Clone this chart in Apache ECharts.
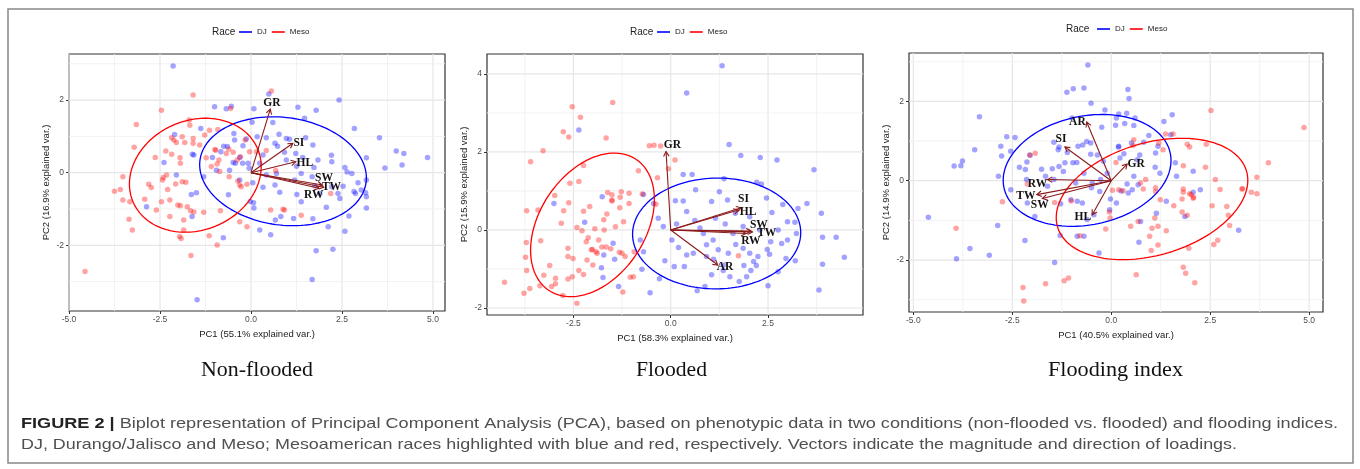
<!DOCTYPE html>
<html><head><meta charset="utf-8">
<script src="https://cdn.jsdelivr.net/npm/echarts@6/dist/echarts.min.js"></script>
<style>html,body{margin:0;padding:0;background:#fff}#c{width:1360px;height:469px}</style>
</head><body><div id="c"></div><script>
// ---------------- DATA ----------------
const panelTitles = ['Non-flooded', 'Flooded', 'Flooding index'];
const xNames = ['PC1 (55.1% explained var.)', 'PC1 (58.3% explained var.)', 'PC1 (40.5% explained var.)'];
const yNames = ['PC2 (16.9% explained var.)', 'PC2 (15.9% explained var.)', 'PC2 (14.9% explained var.)'];
const legendTitle = 'Race';
const groups = ['DJ', 'Meso'];
const captionBold = 'FIGURE 2 |';
const captionLine1 = ' Biplot representation of Principal Component Analysis (PCA), based on phenotypic data in two conditions (non-flooded vs. flooded) and flooding indices.';
const captionLine2 = 'DJ, Durango/Jalisco and Meso; Mesoamerican races highlighted with blue and red, respectively. Vectors indicate the magnitude and direction of loadings.';

// axis ranges
const xRange1 = [-5.0, 5.33], yRange1 = [-3.81, 3.27];
const xRange2 = [-4.72, 4.94], yRange2 = [-2.18, 4.51];
const xRange3 = [-5.11, 5.35], yRange3 = [-3.31, 3.22];
// tick labels (major) and grid lines (major + minor)
const xMajor1 = [-5, -2.5, 0, 2.5, 5], yMajor1 = [-2, 0, 2];
const xMajor2 = [-2.5, 0, 2.5], yMajor2 = [-2, 0, 2, 4];
const xMajor3 = [-5, -2.5, 0, 2.5, 5], yMajor3 = [-2, 0, 2];
const xGrid1 = [-5, -3.75, -2.5, -1.25, 0, 1.25, 2.5, 3.75, 5], yGrid1 = [-3, -2, -1, 0, 1, 2, 3];
const xGrid2 = [-3.75, -2.5, -1.25, 0, 1.25, 2.5, 3.75], yGrid2 = [-2, -1, 0, 1, 2, 3, 4];
const xGrid3 = [-5, -3.75, -2.5, -1.25, 0, 1.25, 2.5, 3.75, 5], yGrid3 = [-3, -2, -1, 0, 1, 2, 3];

// scores: Non-flooded
const dj1 = [[-2.14,2.94],[-1.0,1.82],[-0.68,1.76],[-0.54,1.83],[0.08,1.76],[0.49,2.17],[1.29,1.80],[1.79,1.72],[2.42,2.0],[1.47,1.50],[0.60,1.38],[0.03,1.39],[-1.38,1.22],[-2.10,1.05],[2.84,1.22],[3.53,0.96],[3.99,0.60],[4.20,0.53],[4.85,0.42],[4.15,0.21],[3.68,0.13],[3.17,0.41],[3.17,-0.20],[3.15,-0.55],[3.17,-0.66],[3.17,-0.97],[2.69,-1.19],[2.58,-1.61],[2.25,-2.11],[1.79,-2.15],[1.68,-2.94],[-1.48,-3.50],[-0.76,-1.79],[0.24,-1.58],[0.54,-1.71],[1.70,-1.27],[2.12,-1.49],[2.07,-0.95],[1.17,-1.26],[0.67,-1.30],[0.82,-1.21],[0.08,-0.97],[-0.02,-0.79],[0.07,-0.83],[-0.62,-0.61],[-1.50,-0.55],[-1.64,-0.60],[-1.62,-1.21],[-2.87,-0.94],[-2.05,-0.06],[-2.39,0.28],[-1.61,0.51],[-1.57,0.49],[-0.75,0.73],[-0.65,0.72],[-0.47,1.08],[-0.45,0.90],[-0.13,0.93],[-0.22,0.74],[-0.31,0.42],[-0.23,0.26],[-0.08,0.26],[-0.43,0.26],[-0.59,0.07],[-1.06,0.42],[-0.83,0.58],[-0.49,0.28],[0.17,0.99],[0.42,0.96],[0.77,1.06],[0.66,0.81],[0.73,0.73],[0.97,0.94],[1.06,0.92],[1.50,0.96],[1.70,0.76],[1.23,0.53],[1.42,0.42],[1.84,0.35],[1.25,0.18],[1.73,0.14],[2.21,0.48],[2.22,0.30],[2.58,0.14],[2.64,0.02],[2.77,-0.02],[2.53,-0.37],[2.94,-0.28],[2.83,-0.52],[2.87,-0.57],[3.03,-0.48],[2.39,-0.57],[2.44,-0.71],[2.22,-0.39],[1.89,-0.57],[1.26,-0.60],[1.38,-0.80],[0.79,-0.54],[0.66,-0.34],[0.33,-0.40],[0.42,-0.06],[0.70,-0.02],[0.97,0.35],[0.92,0.56],[0.24,0.26],[0.33,0.49],[1.20,-0.20],[1.38,-0.02],[1.68,-0.11],[1.75,-0.36],[-0.31,-0.20],[-0.05,0.12],[0.05,-0.28],[-1.30,-0.11],[-0.95,0.07]];
const meso1 = [[0.56,2.25],[-1.59,2.14],[-2.46,1.72],[-3.15,1.33],[-3.21,0.70],[-3.52,-0.11],[-3.59,-0.46],[-3.75,-0.51],[-3.52,-0.75],[-3.33,-0.80],[-3.35,-1.28],[-3.26,-1.58],[-4.56,-2.72],[-2.92,-0.73],[-2.81,-0.32],[-2.74,-0.41],[-2.63,0.42],[-2.60,-1.03],[-2.46,-0.80],[-2.43,-0.20],[-2.41,-0.13],[-2.32,-0.06],[-2.29,-0.46],[-2.34,0.60],[-2.18,0.51],[-2.18,0.96],[-2.05,0.83],[-2.12,0.90],[-1.89,0.99],[-1.82,0.83],[-1.59,0.94],[-1.59,0.81],[-1.70,1.45],[-1.68,1.31],[-1.95,0.41],[-1.94,0.26],[-2.23,-0.75],[-2.23,-1.21],[-2.07,-0.31],[-1.89,-0.25],[-1.79,-0.26],[-2.01,-0.89],[-1.96,-1.76],[-1.92,-1.81],[-1.85,-1.58],[-1.85,-1.30],[-1.65,-2.28],[-1.66,-1.05],[-1.57,-1.08],[-1.30,-1.09],[-1.15,-1.74],[-0.93,-1.99],[-0.84,-1.05],[-1.75,-0.94],[-1.94,-0.91],[-1.41,0.76],[-1.27,1.04],[-1.14,1.17],[-0.91,1.19],[-1.23,0.41],[-0.97,0.62],[-0.99,0.64],[-0.93,0.24],[-0.86,0.03],[-0.88,0.35],[-0.68,0.53],[-0.61,0.65],[-0.56,1.77],[-0.38,0.35],[-0.29,0.44],[-0.16,0.90],[-0.31,-0.34],[-0.27,-0.39],[-0.11,-0.32],[-0.36,-0.23],[-0.31,-1.35],[-0.11,-1.49],[-0.04,0.58],[0.15,0.58],[0.42,0.61],[0.68,0.06],[0.54,-1.03],[0.88,-1.01],[0.92,-1.03],[1.38,-1.17],[2.19,-0.57],[-1.09,0.17],[-0.49,0.56],[-0.60,-0.11]];
// scores: Flooded
const dj2 = [[1.32,4.21],[0.41,3.51],[-2.36,2.56],[1.50,2.19],[1.80,1.91],[2.30,1.86],[2.73,1.79],[3.68,1.54],[0.32,1.42],[0.55,1.42],[0.64,1.03],[1.37,1.31],[2.21,1.22],[2.33,1.18],[2.46,0.82],[2.88,0.65],[3.50,0.68],[3.27,0.55],[3.87,0.43],[3.90,-0.19],[4.25,-0.19],[4.46,-0.70],[3.90,-0.88],[3.81,-1.54],[3.20,-0.79],[2.96,-0.73],[2.76,-1.07],[2.50,-1.43],[2.48,-0.50],[2.24,-0.68],[2.13,-0.81],[2.20,-0.91],[2.06,-1.04],[1.88,-0.91],[1.76,-1.32],[1.52,-1.20],[1.35,-1.04],[1.05,-1.15],[0.88,-1.45],[0.68,-1.56],[0.35,-0.94],[0.09,-0.94],[-0.15,-0.79],[-0.29,-1.25],[-0.53,-1.61],[-0.74,-1.01],[-0.78,-0.26],[-0.70,0.91],[-0.44,0.68],[-0.32,0.30],[-0.19,0.09],[0.03,-0.26],[0.15,0.15],[0.12,0.75],[0.32,0.74],[0.41,0.47],[0.62,0.24],[0.84,-0.09],[0.92,-0.38],[1.09,-0.26],[1.05,0.73],[1.25,0.98],[1.46,0.77],[1.66,0.43],[1.60,-0.09],[1.67,-0.37],[1.22,-0.51],[1.48,-0.60],[0.92,-0.68],[0.58,-0.60],[0.41,-0.64],[1.86,0.09],[2.03,0.34],[2.29,0.00],[2.57,-0.30],[2.76,0.00],[3.00,0.21],[3.19,0.20],[3.23,-0.09],[3.00,-0.26],[2.03,-0.60],[1.86,-0.47],[2.54,-0.62],[-1.76,0.85],[-2.21,0.20],[-3.00,0.68],[-1.72,-0.64],[-1.44,-0.75],[-1.78,-0.97],[-1.74,-1.22],[-1.34,-1.45],[-1.48,-0.34],[-0.70,-0.56],[1.35,-0.90],[1.15,0.30],[0.75,0.05],[1.40,0.15],[2.60,0.45],[1.95,-1.20],[0.20,-0.45],[2.85,-0.35],[1.10,-0.75]];
const meso2 = [[-1.49,3.27],[-2.53,3.16],[-2.32,2.89],[-2.76,2.52],[-2.62,2.38],[-1.66,2.36],[-3.28,2.03],[-3.60,1.75],[-0.55,2.16],[-0.43,2.17],[-0.26,2.15],[0.11,1.79],[-0.06,1.57],[-0.83,1.52],[-2.24,1.65],[-2.36,1.24],[-2.59,1.20],[-2.98,0.88],[-3.41,0.51],[-3.70,0.49],[-2.62,0.70],[-2.75,0.49],[-2.81,0.17],[-2.41,0.06],[-2.28,-0.02],[-2.24,0.48],[-2.08,0.60],[-1.95,0.03],[-1.71,0.00],[-1.72,0.26],[-1.64,0.41],[-1.62,0.96],[-1.51,0.90],[-1.51,0.77],[-1.51,0.74],[-1.27,0.98],[-1.30,0.84],[-1.07,0.68],[-1.21,0.21],[-1.42,0.08],[-1.85,-0.26],[-2.12,-0.20],[-2.17,-0.30],[-2.04,-0.51],[-1.92,-0.56],[-1.89,-0.60],[-2.01,-0.50],[-1.77,-0.44],[-1.66,-0.44],[-1.54,-0.48],[-1.32,-0.57],[-1.25,-0.60],[-1.17,-0.68],[-2.15,-0.77],[-2.00,-0.90],[-2.36,-1.04],[-2.24,-1.14],[-2.64,-0.47],[-2.64,-0.68],[-2.51,-0.73],[-2.53,-1.20],[-2.64,-1.26],[-2.96,-1.24],[-2.96,-1.38],[-3.11,-0.91],[-3.26,-1.16],[-3.34,-0.28],[-3.36,-1.43],[-3.06,-1.45],[-3.71,-0.32],[-3.73,-0.70],[-3.70,-1.04],[-3.62,-1.50],[-3.77,-1.62],[-4.27,-1.34],[-2.77,-1.68],[-2.41,-1.88],[-1.23,-1.59],[-1.04,-1.21],[-0.96,-1.20],[-0.94,-0.56],[-1.31,0.57],[-1.07,0.94],[-0.73,0.92],[-0.38,0.66],[-0.34,1.34],[1.74,-0.66]];
// scores: Flooding index
const dj3 = [[-0.59,2.92],[-0.69,2.34],[-0.96,2.32],[-1.12,2.23],[0.42,2.30],[0.45,2.07],[-0.51,1.95],[-0.16,1.78],[0.19,1.68],[0.39,1.70],[1.54,1.66],[0.60,1.58],[0.13,1.58],[-0.99,1.58],[0.11,1.40],[0.34,1.44],[0.57,1.39],[-0.24,1.35],[1.33,1.49],[1.50,1.16],[0.95,1.14],[0.51,0.95],[0.19,0.87],[0.82,0.97],[1.18,0.87],[1.12,0.70],[0.72,0.65],[0.32,0.68],[1.11,0.34],[1.23,0.19],[1.62,0.45],[1.65,0.11],[2.07,0.24],[2.25,-0.23],[2.07,-0.29],[1.39,-0.52],[1.14,-0.82],[1.86,-0.90],[3.22,-1.25],[0.74,-1.03],[0.70,-1.55],[0.43,-0.31],[0.53,-0.23],[0.68,-0.10],[0.57,0.11],[0.40,-0.08],[0.25,-0.26],[0.13,-0.56],[-0.02,-0.46],[-0.04,-0.73],[-0.29,-0.27],[-0.50,-0.18],[-0.44,-0.86],[-0.61,-0.98],[-0.73,-0.56],[-0.86,-0.52],[-1.02,-0.48],[-1.28,-0.58],[-0.31,-1.82],[-0.69,-1.40],[-0.86,-1.40],[-1.29,-1.38],[-2.18,-1.51],[-1.43,-2.06],[-2.87,-1.13],[-3.08,-1.88],[-3.57,-1.71],[-3.91,-1.97],[-4.62,-0.92],[-3.97,0.37],[-3.80,0.38],[-3.76,0.50],[-3.45,0.78],[-3.33,1.61],[-2.85,0.11],[-2.77,0.62],[-2.79,0.87],[-2.64,1.11],[-2.43,1.09],[-2.54,0.74],[-2.54,-0.23],[-2.32,0.34],[-2.13,0.47],[-2.05,0.64],[-2.17,0.28],[-2.14,0.03],[-2.12,-0.56],[-1.93,-0.90],[-1.76,0.29],[-1.66,0.11],[-1.49,0.30],[-1.32,0.36],[-1.21,0.23],[-1.45,0.03],[-1.61,-0.14],[-1.32,0.85],[-1.45,0.97],[-1.34,0.78],[-1.17,0.45],[-1.11,0.71],[-0.97,0.45],[-0.87,0.46],[-0.84,0.87],[-0.72,0.90],[-0.62,0.99],[-0.52,0.67],[-0.35,0.65],[-0.52,0.95],[-0.20,0.49],[-0.69,0.19],[-0.48,-0.06],[-0.90,-0.06],[-0.27,0.03],[-0.10,0.19],[0.18,0.85],[0.22,0.57],[0.66,0.53]];
const meso3 = [[2.52,1.77],[4.87,1.34],[3.97,0.45],[3.68,0.09],[3.68,-0.33],[3.54,-0.29],[3.30,-0.21],[2.63,0.03],[2.75,-0.22],[2.38,0.34],[2.40,0.92],[1.92,0.92],[1.98,0.85],[1.82,0.38],[1.82,-0.21],[1.82,-0.29],[1.98,-0.33],[2.07,-0.44],[1.79,-0.46],[1.58,-0.63],[1.79,-0.79],[1.92,-0.87],[2.55,-0.63],[2.92,-0.65],[2.96,-0.87],[2.99,-1.13],[2.69,-1.50],[2.59,-1.61],[1.96,-1.70],[1.82,-2.18],[1.88,-2.33],[2.11,-2.57],[1.39,-1.26],[1.18,-1.15],[1.03,-1.20],[1.10,-0.94],[0.97,-1.40],[1.01,-1.76],[1.18,-1.62],[0.63,-2.37],[0.49,-1.15],[0.68,-1.03],[1.12,-0.27],[1.24,-0.48],[1.12,-0.18],[0.87,0.03],[0.74,-0.06],[0.81,-0.21],[0.57,1.03],[0.55,0.89],[1.37,1.18],[1.56,1.18],[1.20,0.95],[1.31,0.78],[0.12,0.46],[0.19,-0.23],[0.03,-0.24],[-0.14,-1.22],[-0.05,-0.79],[-0.03,-0.94],[-0.79,-1.39],[-1.01,-0.51],[-1.43,-0.55],[-1.19,-2.52],[-1.08,-2.45],[-1.66,-2.60],[-2.23,-2.69],[-2.21,-3.03],[-2.75,-0.53],[-3.92,-1.20],[-1.92,0.69],[-2.06,0.65],[-2.12,-0.08],[2.08,-0.42],[3.32,-0.20],[2.02,-0.35],[0.30,-0.25]];

// normal-data ellipses: [centerX, centerY, halfWidth, halfHeight, yOffsetAtRightmostPoint]
const ellDJ1 = [0.88, 0.04, 2.29, 1.50, -0.18], ellMeso1 = [-1.53, -0.07, 1.81, 1.57, 0.24];
const ellDJ2 = [1.18, -0.09, 2.16, 1.42, 0.02], ellMeso2 = [-2.01, 0.13, 1.59, 1.84, 0.65];
const ellDJ3 = [-0.61, 0.26, 2.12, 1.41, 0.25], ellMeso3 = [1.03, -0.46, 2.42, 1.53, 0.47];

// loadings (arrow tips)
const vars1 = ['GR', 'SI', 'HL', 'SW', 'TW', 'RW'];
const loads1 = [[0.53,1.75],[1.15,0.81],[1.23,0.30],[1.96,-0.34],[2.00,-0.40],[1.87,-0.43]];
const vars2 = ['GR', 'SI', 'HL', 'SW', 'TW', 'RW', 'AR'];
const loads2 = [[-0.12,2.01],[1.81,0.57],[1.74,0.51],[2.06,-0.03],[2.10,-0.05],[1.93,-0.09],[1.21,-0.90]];
const vars3 = ['AR', 'SI', 'GR', 'RW', 'TW', 'SW', 'HL'];
const loads3 = [[-0.62,1.48],[-1.17,0.85],[0.40,0.42],[-1.61,0.03],[-1.88,-0.35],[-1.74,-0.45],[-0.48,-0.86]];

// ---------------- LAYOUT / STYLE ----------------
const gridBoxes = [
  {left: 69, top: 54, width: 376, height: 257},
  {left: 487, top: 54, width: 376, height: 261},
  {left: 909, top: 53, width: 414, height: 259}
];
const labelOffsets = [
  {GR:[1.6,-6.6], SI:[6,-0.6], HL:[9,1.7], SW:[1.6,-6.7], TW:[7.7,0], RW:[-5.3,6.7]},
  {GR:[6.3,-6.7], SI:[2.3,-8.3], HL:[9.7,1.7], SW:[8,-6], TW:[14.3,1.3], RW:[5,7.7], AR:[7.3,2.3]},
  {AR:[-9.3,0], SI:[-4,-8], GR:[9,0], RW:[-10,4.3], TW:[-11,1.7], SW:[-2.7,6.7], HL:[-9.5,2.3]}
];
const legendPos = [{left: 239, top: 28, rx: 212, ry: 32}, {left: 657, top: 28, rx: 630, ry: 32}, {left: 1097, top: 25, rx: 1066, ry: 29}];
const titlePos = [{cx: 257, w: 112}, {cx: 671.5, w: 71}, {cx: 1115.5, w: 135}];
const BLUE = '#0000FF', RED = '#FF0000', ARROW = '#8B1A1A';

const panels = [
  {dj: dj1, meso: meso1, ellDJ: ellDJ1, ellMeso: ellMeso1, vars: vars1, loads: loads1, xr: xRange1, yr: yRange1, xMajor: xMajor1, yMajor: yMajor1, xGrid: xGrid1, yGrid: yGrid1},
  {dj: dj2, meso: meso2, ellDJ: ellDJ2, ellMeso: ellMeso2, vars: vars2, loads: loads2, xr: xRange2, yr: yRange2, xMajor: xMajor2, yMajor: yMajor2, xGrid: xGrid2, yGrid: yGrid2},
  {dj: dj3, meso: meso3, ellDJ: ellDJ3, ellMeso: ellMeso3, vars: vars3, loads: loads3, xr: xRange3, yr: yRange3, xMajor: xMajor3, yMajor: yMajor3, xGrid: xGrid3, yGrid: yGrid3}
];

const grids = [], xAxes = [], yAxes = [], series = [], legends = [], graphics = [];

panels.forEach((p, i) => {
  grids.push(Object.assign({show: true, borderColor: '#333', borderWidth: 1.2, backgroundColor: '#fff', containLabel: false}, gridBoxes[i]));
  xAxes.push({
    gridIndex: i, type: 'value', min: p.xr[0], max: p.xr[1],
    axisLine: {show: false, onZero: false},
    axisTick: {show: true, customValues: p.xMajor, length: 3, lineStyle: {color: '#333', width: 1}},
    axisLabel: {customValues: p.xMajor, formatter: v => Number(v).toFixed(1), fontSize: 8.5, color: '#4D4D4D', margin: 4, fontFamily: 'Liberation Sans'},
    splitLine: {show: false},
    name: xNames[i], nameLocation: 'middle', nameGap: 15,
    nameTextStyle: {fontSize: 9.5, color: '#222', fontFamily: 'Liberation Sans'}
  });
  yAxes.push({
    gridIndex: i, type: 'value', min: p.yr[0], max: p.yr[1],
    axisLine: {show: false, onZero: false},
    axisTick: {show: true, customValues: p.yMajor, length: 3, lineStyle: {color: '#333', width: 1}},
    axisLabel: {customValues: p.yMajor, formatter: v => String(v), fontSize: 8.5, color: '#4D4D4D', margin: 5, fontFamily: 'Liberation Sans'},
    splitLine: {show: false},
    name: yNames[i], nameLocation: 'middle', nameGap: 18, nameRotate: 90,
    nameTextStyle: {fontSize: 9.5, color: '#222', fontFamily: 'Liberation Sans'}
  });

  // grid lines (major + minor) drawn through the axes' scales
  const gdata = [];
  p.xGrid.forEach(v => gdata.push([v, 0, p.xMajor.includes(v) ? 1 : 0]));
  p.yGrid.forEach(v => gdata.push([v, 1, p.yMajor.includes(v) ? 1 : 0]));
  series.push({
    type: 'custom', xAxisIndex: i, yAxisIndex: i, silent: true, z: 1, data: gdata,
    renderItem: (params, api) => {
      const v = api.value(0), o = api.value(1), maj = api.value(2);
      const a = o === 0 ? api.coord([v, p.yr[0]]) : api.coord([p.xr[0], v]);
      const b = o === 0 ? api.coord([v, p.yr[1]]) : api.coord([p.xr[1], v]);
      return {type: 'line', shape: {x1: a[0], y1: a[1], x2: b[0], y2: b[1]},
        style: {stroke: maj ? '#E6E6E6' : '#F0F0F0', lineWidth: maj ? 1.2 : 0.9}};
    }
  });

  // points
  series.push({type: 'scatter', name: 'DJ', xAxisIndex: i, yAxisIndex: i, data: p.dj, symbolSize: 5.5, silent: true, z: 2,
    itemStyle: {color: BLUE, opacity: 0.36}});
  series.push({type: 'scatter', name: 'Meso', xAxisIndex: i, yAxisIndex: i, data: p.meso, symbolSize: 5.5, silent: true, z: 2,
    itemStyle: {color: RED, opacity: 0.36}});

  // ellipses
  [[p.ellDJ, BLUE], [p.ellMeso, RED]].forEach(([e, col]) => {
    series.push({
      type: 'custom', xAxisIndex: i, yAxisIndex: i, silent: true, z: 3, data: [e],
      renderItem: (params, api) => {
        const cx = api.value(0), cy = api.value(1), hw = api.value(2), hh = api.value(3), ry = api.value(4);
        const l22 = Math.sqrt(Math.max(hh * hh - ry * ry, 0));
        const pts = [];
        for (let k = 0; k <= 144; k++) {
          const t = 2 * Math.PI * k / 144;
          pts.push(api.coord([cx + hw * Math.cos(t), cy + ry * Math.cos(t) + l22 * Math.sin(t)]));
        }
        return {type: 'polyline', shape: {points: pts}, style: {stroke: col, fill: null, lineWidth: 1.3}};
      }
    });
  });

  // loading vectors with labels
  series.push({
    type: 'custom', xAxisIndex: i, yAxisIndex: i, silent: true, z: 4,
    data: p.loads.map((l, k) => [l[0], l[1], k]),
    renderItem: (params, api) => {
      const o = api.coord([0, 0]);
      const t = api.coord([api.value(0), api.value(1)]);
      const ang = Math.atan2(t[1] - o[1], t[0] - o[0]);
      const L = 5.5, A = Math.PI / 6;
      const h1 = [t[0] - L * Math.cos(ang - A), t[1] - L * Math.sin(ang - A)];
      const h2 = [t[0] - L * Math.cos(ang + A), t[1] - L * Math.sin(ang + A)];
      const name = p.vars[api.value(2)];
      const off = labelOffsets[i][name] || [0, 0];
      return {type: 'group', children: [
        {type: 'line', shape: {x1: o[0], y1: o[1], x2: t[0], y2: t[1]}, style: {stroke: ARROW, lineWidth: 1.1}},
        {type: 'polyline', shape: {points: [h1, t, h2]}, style: {stroke: ARROW, lineWidth: 1.1, fill: null}},
        {type: 'text', x: t[0] + off[0], y: t[1] + off[1], z2: 10,
          style: {text: name, fontSize: 11.5, fontWeight: 'bold', fontFamily: 'Liberation Serif', fill: '#141010',
            textAlign: 'center', textVerticalAlign: 'middle'}}
      ]};
    }
  });

  legends.push({
    left: legendPos[i].left, top: legendPos[i].top, padding: 0, itemGap: 5, itemWidth: 13, itemHeight: 1.6,
    icon: 'rect', selectedMode: false,
    data: [{name: 'DJ', itemStyle: {color: BLUE, opacity: 1}}, {name: 'Meso', itemStyle: {color: RED, opacity: 1}}],
    textStyle: {fontSize: 8, color: '#222', fontFamily: 'Liberation Sans'}
  });
  graphics.push({type: 'text', x: legendPos[i].rx, y: legendPos[i].ry,
    style: {text: legendTitle, font: '10px "Liberation Sans"', fill: '#222', textAlign: 'left', textVerticalAlign: 'middle'}});
});

// text width helper for fitting wide figure text
const mctx = document.createElement('canvas').getContext('2d');
function tw(txt, font) { mctx.font = font; return mctx.measureText(txt).width; }

const titleFont = '22px "Liberation Serif"';
panelTitles.forEach((t, i) => {
  const s = titlePos[i].w / tw(t, titleFont);
  graphics.push({type: 'text', x: titlePos[i].cx, y: 370, scaleX: s,
    style: {text: t, font: titleFont, fill: '#111', textAlign: 'center', textVerticalAlign: 'middle'}});
});

const capSize = 15;
const capFont = capSize + 'px "Liberation Sans"';
const capBoldFont = 'bold ' + capSize + 'px "Liberation Sans"';
const w1 = tw(captionBold, capBoldFont) + tw(captionLine1, capFont);
const w2 = tw(captionLine2, capFont);
graphics.push({type: 'text', x: 21, y: 424, scaleX: 1317 / w1,
  style: {text: '{b|' + captionBold + '}' + captionLine1, font: capFont, fill: '#505050', textAlign: 'left', textVerticalAlign: 'middle',
    rich: {b: {fontWeight: 'bold', fontSize: capSize, fontFamily: 'Liberation Sans', fill: '#222'}}}});
graphics.push({type: 'text', x: 21, y: 445, scaleX: 1216 / w2,
  style: {text: captionLine2, font: capFont, fill: '#505050', textAlign: 'left', textVerticalAlign: 'middle'}});

graphics.push({type: 'rect', shape: {x: 8, y: 9, width: 1345, height: 454}, silent: true,
  style: {fill: null, stroke: '#888', lineWidth: 1.5}});

const chart = echarts.init(document.getElementById('c'), null, {renderer: 'canvas'});
chart.setOption({
  animation: false,
  backgroundColor: '#fff',
  grid: grids, xAxis: xAxes, yAxis: yAxes,
  legend: legends,
  series: series,
  graphic: {elements: graphics}
});
</script></body></html>
